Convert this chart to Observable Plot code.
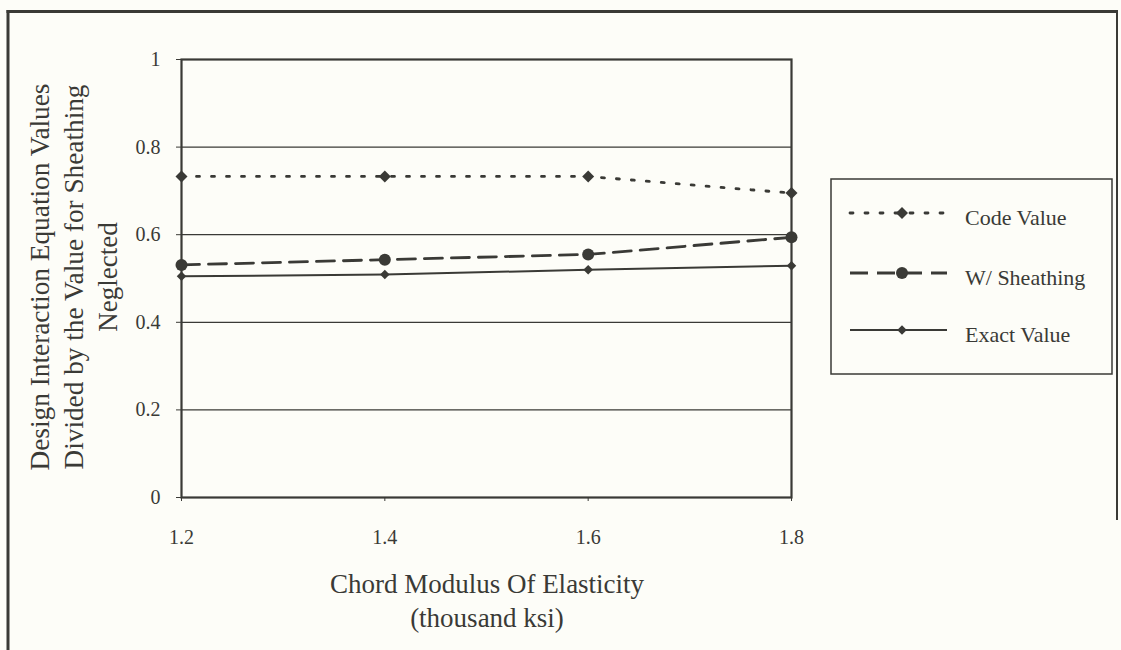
<!DOCTYPE html>
<html><head><meta charset="utf-8">
<script src="https://cdn.jsdelivr.net/npm/d3@7"></script>
<script src="https://cdn.jsdelivr.net/npm/@observablehq/plot@0.6"></script>
<style>
html,body{margin:0;padding:0;background:#fdfdf8;}
#chart{position:relative;width:1121px;height:650px;overflow:hidden;}
svg{display:block;}
</style></head><body><div id="chart"></div>
<script>
// ---- data ----
const modulus = [1.2, 1.4, 1.6, 1.8];
const codeValue = [0.733, 0.733, 0.733, 0.695];
const withSheathing = [0.531, 0.543, 0.555, 0.594];
const exactValue = [0.505, 0.509, 0.520, 0.529];
const seriesNames = ["Code Value", "W/ Sheathing", "Exact Value"];
const yTicks = [0, 0.2, 0.4, 0.6, 0.8, 1];
const gridTicks = [0.2, 0.4, 0.6, 0.8];
const xTitle = ["Chord Modulus Of Elasticity", "(thousand ksi)"];
const yTitle = ["Design Interaction Equation Values", "Divided by the Value for Sheathing", "Neglected"];

const ink = "#3a3a36";
const font = "'Liberation Serif', 'Times New Roman', serif";
const rows = (vals, name) => modulus.map((m, i) => ({x: m, y: vals[i], series: name}));
const code = rows(codeValue, seriesNames[0]);
const sheath = rows(withSheathing, seriesNames[1]);
const exact = rows(exactValue, seriesNames[2]);

const styles = {
  code: {strokeDasharray: "3,12", strokeWidth: 2.8, strokeLinecap: "round"},
  sheath: {strokeDasharray: "18,9", strokeWidth: 2.8},
  exact: {strokeWidth: 2}
};

const plot = Plot.plot({
  width: 1121, height: 650,
  marginLeft: 181, marginRight: 330, marginTop: 59, marginBottom: 153,
  style: {fontFamily: font, fontSize: "20px", background: "transparent", color: ink},
  x: {domain: [1.2, 1.8]},
  y: {domain: [0, 1]},
  marks: [
    Plot.ruleY(gridTicks, {stroke: ink, strokeWidth: 1.2}),
    Plot.line(code, {x: "x", y: "y", stroke: ink, ...styles.code}),
    Plot.line(sheath, {x: "x", y: "y", stroke: ink, ...styles.sheath}),
    Plot.line(exact, {x: "x", y: "y", stroke: ink, ...styles.exact}),
    Plot.frame({stroke: ink, strokeWidth: 2.2}),
    Plot.axisY({ticks: yTicks, tickSize: 5, tickPadding: 16, tickFormat: d => String(d), label: null, fontSize: 20}),
    Plot.axisX({ticks: modulus, tickSize: 4, tickPadding: 28, tickFormat: d => d.toFixed(1), label: null, fontSize: 20}),
    Plot.dot(code, {x: "x", y: "y", symbol: "diamond2", r: 5.4, fill: ink, stroke: "none"}),
    Plot.dot(sheath, {x: "x", y: "y", symbol: "circle", r: 6, fill: ink, stroke: "none"}),
    Plot.dot(exact, {x: "x", y: "y", symbol: "diamond2", r: 4.3, fill: ink, stroke: "none"})
  ]
});
document.getElementById("chart").appendChild(plot);

const svg = d3.select(plot);
// outer frame
const frame = svg.append("g").attr("stroke", ink).attr("fill", "none");
frame.append("line").attr("x1", 8).attr("x2", 8).attr("y1", 10).attr("y2", 650).attr("stroke-width", 3);
frame.append("line").attr("x1", 6.5).attr("x2", 1118).attr("y1", 11.5).attr("y2", 11.5).attr("stroke-width", 3);
frame.append("line").attr("x1", 1117).attr("x2", 1117).attr("y1", 10).attr("y2", 520).attr("stroke-width", 2);

// x title
svg.append("g").attr("font-family", font).attr("font-size", 27).attr("fill", ink).attr("text-anchor", "middle")
  .selectAll("text").data(xTitle).join("text")
  .attr("x", 487).attr("y", (d, i) => 593 + i * 34).text(d => d);

// y title
const yPos = [49, 83, 117];
const yLen = [387, 385, null];
svg.append("g").attr("font-family", font).attr("font-size", 27).attr("fill", ink).attr("text-anchor", "middle")
  .selectAll("text").data(yTitle).join("text")
  .attr("transform", (d, i) => `translate(${yPos[i]},277) rotate(-90)`)
  .each(function(d, i) { if (yLen[i]) d3.select(this).attr("textLength", yLen[i]).attr("lengthAdjust", "spacingAndGlyphs"); })
  .text(d => d);

// legend
const lg = svg.append("g").attr("text-anchor", "start");
lg.append("rect").attr("x", 831).attr("y", 179).attr("width", 281).attr("height", 195)
  .attr("fill", "none").attr("stroke", ink).attr("stroke-width", 1.5);
const entries = [
  {name: seriesNames[0], st: styles.code, sym: d3.symbolDiamond2, size: Math.PI * 5.4 * 5.4, ly: 213},
  {name: seriesNames[1], st: styles.sheath, sym: d3.symbolCircle, size: Math.PI * 36, ly: 273},
  {name: seriesNames[2], st: styles.exact, sym: d3.symbolDiamond2, size: Math.PI * 4.3 * 4.3, ly: 330}
];
entries.forEach(e => {
  const ln = lg.append("line").attr("x1", 850).attr("x2", 947).attr("y1", e.ly).attr("y2", e.ly)
    .attr("stroke", ink).attr("stroke-width", e.st.strokeWidth);
  if (e.st.strokeDasharray) ln.attr("stroke-dasharray", e.st.strokeDasharray);
  if (e.st.strokeLinecap) ln.attr("stroke-linecap", e.st.strokeLinecap);
  lg.append("path").attr("d", d3.symbol(e.sym, e.size)()).attr("transform", `translate(902,${e.ly})`).attr("fill", ink);
  lg.append("text").attr("x", 965).attr("y", e.ly + 12).attr("text-anchor", "start")
    .attr("font-family", font).attr("font-size", 22).attr("fill", ink).text(e.name);
});
</script>
</body></html>
